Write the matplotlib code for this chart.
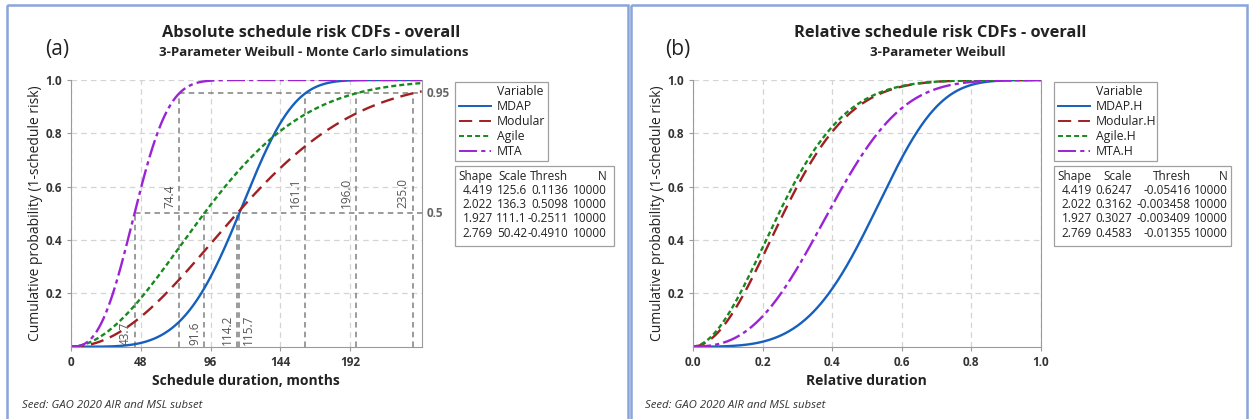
import numpy as np
import matplotlib
matplotlib.use("Agg")
import matplotlib.pyplot as plt
from matplotlib.patches import Rectangle
from matplotlib.lines import Line2D

plt.rcParams['font.family'] = ['Open Sans', 'DejaVu Sans']
plt.rcParams['lines.scale_dashes'] = False

# 3-parameter Weibull fits (Monte Carlo, N = 10000 each)
variables = ['MDAP', 'Modular', 'Agile', 'MTA']
shape = [4.419, 2.022, 1.927, 2.769]
abs_scale = [125.6, 136.3, 111.1, 50.42]
abs_thresh = [0.1136, 0.5098, -0.2511, -0.4910]
rel_scale = [0.6247, 0.3162, 0.3027, 0.4583]
rel_thresh = [-0.05416, -0.003458, -0.003409, -0.01355]
n_sims = [10000, 10000, 10000, 10000]

# percentile read-outs on the absolute chart (months)
p50 = [115.7, 114.2, 91.6, 43.7]
p95 = [161.1, 235.0, 196.0, 74.4]

colors = ['#1560bd', '#a11f22', '#178a1e', '#9c22d6']
dashes = [None, (9.5, 5), (3.6, 2.2), (13, 3, 3, 3)]

W, H = 1249, 419
fig = plt.figure(figsize=(W / 100, H / 100), dpi=100)


def px_axes(x0, y0, x1, y1):
    return fig.add_axes([x0 / W, 1 - y1 / H, (x1 - x0) / W, (y1 - y0) / H])


def weibull_cdf(x, k, lam, th):
    z = np.clip(x - th, 0, None) / lam
    return 1 - np.exp(-z ** k)


def style_axes(ax, xmax, xticks, xticklabels):
    ax.set_xlim(0, xmax)
    ax.set_ylim(0, 1.0)
    ax.set_xticks(xticks)
    ax.set_xticklabels(xticklabels)
    ax.set_yticks([0.2, 0.4, 0.6, 0.8, 1.0])
    ax.set_yticklabels(['0.2', '0.4', '0.6', '0.8', '1.0'])
    ax.grid(True, color='#d4d4d4', linestyle=(0, (4, 3)), linewidth=0.9)
    ax.set_axisbelow(True)
    for s in ['left', 'bottom', 'right']:
        ax.spines[s].set_color('#9a9a9a')
    ax.spines['top'].set_visible(False)
    ax.tick_params(colors='#9a9a9a', length=3, labelcolor='#333333',
                   labelsize=8.5)
    for lab in ax.get_xticklabels() + ax.get_yticklabels():
        lab.set_fontweight('bold')
    ax.set_ylabel('Cumulative probability (1-schedule risk)', fontsize=10,
                  color='#222222', labelpad=1.5)


def draw_curves(ax, scales, threshs, xmax):
    x = np.linspace(0, xmax, 800)
    lines = []
    for k, lam, th, c, d in zip(shape, scales, threshs, colors, dashes):
        ln, = ax.plot(x, weibull_cdf(x, k, lam, th), color=c, lw=1.7)
        if d is not None:
            ln.set_dashes(d)
        lines.append(ln)
    return lines


# ---------- (a) absolute durations ----------
ax1 = px_axes(71, 80, 421.7, 346.7)
xmax1 = 241.2
style_axes(ax1, xmax1, [0, 48, 96, 144, 192], ['0', '48', '96', '144', '192'])
ax1.set_xlabel('Schedule duration, months', fontsize=10, fontweight='bold',
               color='#222222', labelpad=4)

ref = dict(color='#808080', linestyle=(0, (4, 3)), linewidth=1.1)
ax1.plot([min(p95), xmax1], [0.95, 0.95], **ref)
ax1.plot([min(p50), xmax1], [0.5, 0.5], **ref)
for v in p95:
    ax1.plot([v, v], [0, 0.95], **ref)
for v in p50:
    ax1.plot([v, v], [0, 0.5], **ref)
draw_curves(ax1, abs_scale, abs_thresh, xmax1)

lab = dict(rotation=90, fontsize=8.5, color='#555555', va='bottom')
for v in p95:
    ax1.text(v - 2, 0.52, f'{v:.1f}', ha='right', **lab)
for v in p50:
    if v == max(p50):
        ax1.text(v + 2, 0.005, f'{v:.1f}', ha='left', **lab)
    else:
        ax1.text(v - 2, 0.005, f'{v:.1f}', ha='right', **lab)
ax1.text(1.015, 0.95, '0.95', transform=ax1.get_yaxis_transform(),
         fontsize=8.5, fontweight='bold', color='#666666', va='center')
ax1.text(1.015, 0.5, '0.5', transform=ax1.get_yaxis_transform(),
         fontsize=8.5, fontweight='bold', color='#666666', va='center')

# ---------- (b) relative durations ----------
ax2 = px_axes(693, 80, 1040.7, 346.7)
style_axes(ax2, 1.0, [0, 0.2, 0.4, 0.6, 0.8, 1.0],
           ['0.0', '0.2', '0.4', '0.6', '0.8', '1.0'])
ax2.set_xlabel('Relative duration', fontsize=10, fontweight='bold',
               color='#222222', labelpad=4)
draw_curves(ax2, rel_scale, rel_thresh, 1.0)

# ---------- overlay: frames, titles, legends, tables ----------
ov = fig.add_axes([0, 0, 1, 1], zorder=-1)
ov.set_xlim(0, W)
ov.set_ylim(H, 0)
ov.axis('off')
top = fig.add_axes([0, 0, 1, 1], zorder=5)
top.set_xlim(0, W)
top.set_ylim(H, 0)
top.axis('off')

for x0, x1 in [(7, 628), (631, 1247)]:
    ov.add_patch(Rectangle((x0, 5), x1 - x0, H, fill=False,
                           edgecolor='#8aa4dc', lw=1.8))

top.text(311, 33, 'Absolute schedule risk CDFs - overall', ha='center',
         va='center', fontsize=11.8, fontweight='bold', color='#222222')
top.text(314, 53, '3-Parameter Weibull - Monte Carlo simulations',
         ha='center', va='center', fontsize=9.5, fontweight='bold',
         color='#222222')
top.text(940, 33, 'Relative schedule risk CDFs - overall', ha='center',
         va='center', fontsize=11.8, fontweight='bold', color='#222222')
top.text(938, 53, '3-Parameter Weibull', ha='center', va='center',
         fontsize=9.5, fontweight='bold', color='#222222')
top.text(57, 50, '(a)', ha='center', va='center', fontsize=15, color='#222222')
top.text(678, 50, '(b)', ha='center', va='center', fontsize=15,
         color='#222222')
for xs in [22, 645]:
    top.text(xs, 405, 'Seed: GAO 2020 AIR and MSL subset', ha='left',
             va='center', fontsize=8.2, style='italic', color='#333333')


def legend_box(x0, x1, names):
    top.add_patch(Rectangle((x0, 82.3), x1 - x0, 78.7, fill=True,
                            facecolor='white', edgecolor='#a0a0a0', lw=0.9))
    tx = x0 + 42
    top.text(tx, 91.7, 'Variable', fontsize=8.8, va='center', color='#222222')
    for i, (nm, c, d) in enumerate(zip(names, colors, dashes)):
        y = 106 + 15 * i
        ln = Line2D([x0 + 4, x0 + 36], [y, y], color=c, lw=1.4)
        if d is not None:
            ln.set_dashes(d)
        top.add_line(ln)
        top.text(tx, y, nm, fontsize=8.8, va='center', color='#222222')


def table_box(x0, x1, col_right, scales, threshs, sfmt, tfmt):
    top.add_patch(Rectangle((x0, 165.7), x1 - x0, 80, fill=True,
                            facecolor='white', edgecolor='#a0a0a0', lw=0.9))
    for xr, h in zip(col_right, ['Shape', 'Scale', 'Thresh', 'N']):
        top.text(xr, 176.7, h, ha='right', va='center', fontsize=8.5,
                 color='#222222')
    for i in range(len(shape)):
        y = 190.7 + 14.1 * i
        cells = [f'{shape[i]:.3f}', sfmt(scales[i]), tfmt(threshs[i]),
                 str(n_sims[i])]
        for xr, s in zip(col_right, cells):
            top.text(xr, y, s, ha='right', va='center', fontsize=8.5,
                     color='#222222')


legend_box(455, 548, variables)
table_box(455, 614, [493, 527, 568, 607], abs_scale, abs_thresh,
          lambda v: f'{v:.4g}', lambda v: f'{v:.4f}')
legend_box(1054, 1157, [v + '.H' for v in variables])
table_box(1054, 1231, [1092, 1132, 1191, 1228], rel_scale, rel_thresh,
          lambda v: f'{v:.4f}', lambda v: f'{v:.4g}')

fig.savefig('out.png', dpi=100)
